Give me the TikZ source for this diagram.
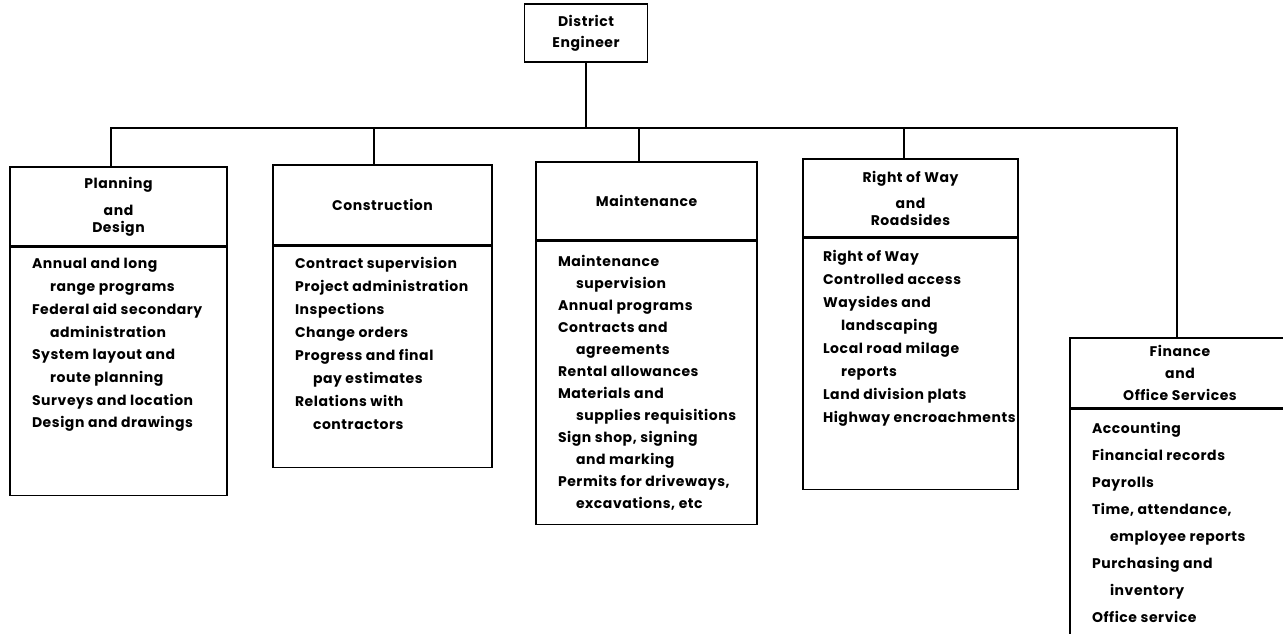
\documentclass[tikz,border=0pt]{standalone}
\usepackage{fontspec}
\setmainfont{Poppins}[LetterSpace=4]
\usetikzlibrary{positioning}
\tikzset{x=1pt, y=-1pt,        % one unit = one pixel of the chart, y runs down
    every node/.style={font=\bfseries\fontsize{14}{17}\selectfont},
    chief/.style={             % the head office box
        draw, line width=1.6pt,
        minimum width=123pt, minimum height=58pt,
        align=center, inner sep=0pt},
    headbox/.style={           % title part of a division box
        draw, line width=1.6pt,
        minimum width=218pt, minimum height=78pt,
        align=center, inner sep=0pt},
    bodybox/.style={           % duty list part of a division box
        draw, line width=1.6pt,
        minimum width=218pt, inner sep=0pt},
    items/.style={             % the list of duties
        anchor=north west, align=left, inner sep=0pt,
        font=\bfseries\fontsize{14}{#1}\selectfont},
    every path/.style={line width=1.6pt}}
\newcommand{\ind}{\hspace*{18pt}}

\begin{document}
\begin{tikzpicture}
        \useasboundingbox (0,0) rectangle (1283,634);

        \node[chief] (de) at (586,33) {District\\[4pt]Engineer};

        \node[headbox, minimum width=217pt, minimum height=79pt] (plan) at (118.5,206.5) {Planning\\[10pt]and\\Design};
        \node[bodybox, minimum width=217pt, minimum height=248pt, below=0pt of plan] (planbody) {};
        \node[items=22.7pt] (planlist) at ([xshift=22pt, yshift=-11pt]planbody.north west)
            {Annual and long\\\ind range programs\\Federal aid secondary\\\ind administration\\
             System layout and\\\ind route planning\\Surveys and location\\Design and drawings};

        \node[headbox, minimum width=219pt, minimum height=80pt] (cons) at (382.5,205) {Construction};
        \node[bodybox, minimum width=219pt, minimum height=221pt, below=0pt of cons] (consbody) {};
        \node[items=22.9pt] (conslist) at ([xshift=22pt, yshift=-11pt]consbody.north west)
            {Contract supervision\\Project administration\\Inspections\\Change orders\\
             Progress and final\\\ind pay estimates\\Relations with\\\ind contractors};

        \node[headbox, minimum width=221pt] (main) at (646.5,201) {Maintenance};
        \node[bodybox, minimum width=221pt, minimum height=283pt, below=0pt of main] (mainbody) {};
        \node[items=22pt] (mainlist) at ([xshift=22pt, yshift=-14pt]mainbody.north west)
            {Maintenance\\\ind supervision\\Annual programs\\Contracts and\\\ind agreements\\
             Rental allowances\\Materials and\\\ind supplies requisitions\\Sign shop, signing\\
             \ind and marking\\Permits for driveways,\\\ind excavations, etc};

        \node[headbox, minimum width=215pt] (row) at (910.5,198) {Right of Way\\[9pt]and\\Roadsides};
        \node[bodybox, minimum width=215pt, minimum height=251pt, below=0pt of row] (rowbody) {};
        \node[items=22.9pt] (rowlist) at ([xshift=20pt, yshift=-12pt]rowbody.north west)
            {Right of Way\\Controlled access\\Waysides and\\\ind landscaping\\
             Local road milage\\\ind reports\\Land division plats\\Highway encroachments};

        \node[headbox, minimum width=220pt, minimum height=70pt] (fin) at (1180,373) {Finance\\[5pt]and\\[5pt]Office Services};
        \node[bodybox, minimum width=220pt, minimum height=228pt, below=0pt of fin] (finbody) {};
        \node[items=27pt] (finlist) at ([xshift=22pt, yshift=-13pt]finbody.north west)
            {Accounting\\Financial records\\Payrolls\\Time, attendance,\\\ind employee reports\\
             Purchasing and\\\ind inventory\\Office service};

        % bus line from the district engineer to the divisions
        \coordinate (busP) at (111,128);
        \coordinate (busC) at (374,128);
        \coordinate (busM) at (639,128);
        \coordinate (busR) at (904,128);
        \coordinate (busF) at (1177,128);

        \draw (de.south) -- (de.south |- busP);
        \draw (busP |- plan.north) -- (busP) -- (busF) -- (busF |- fin.north);
        \draw (busC) -- (busC |- cons.north);
        \draw (busM) -- (busM |- main.north);
        \draw (busR) -- (busR |- row.north);
    \end{tikzpicture}
\end{document}
